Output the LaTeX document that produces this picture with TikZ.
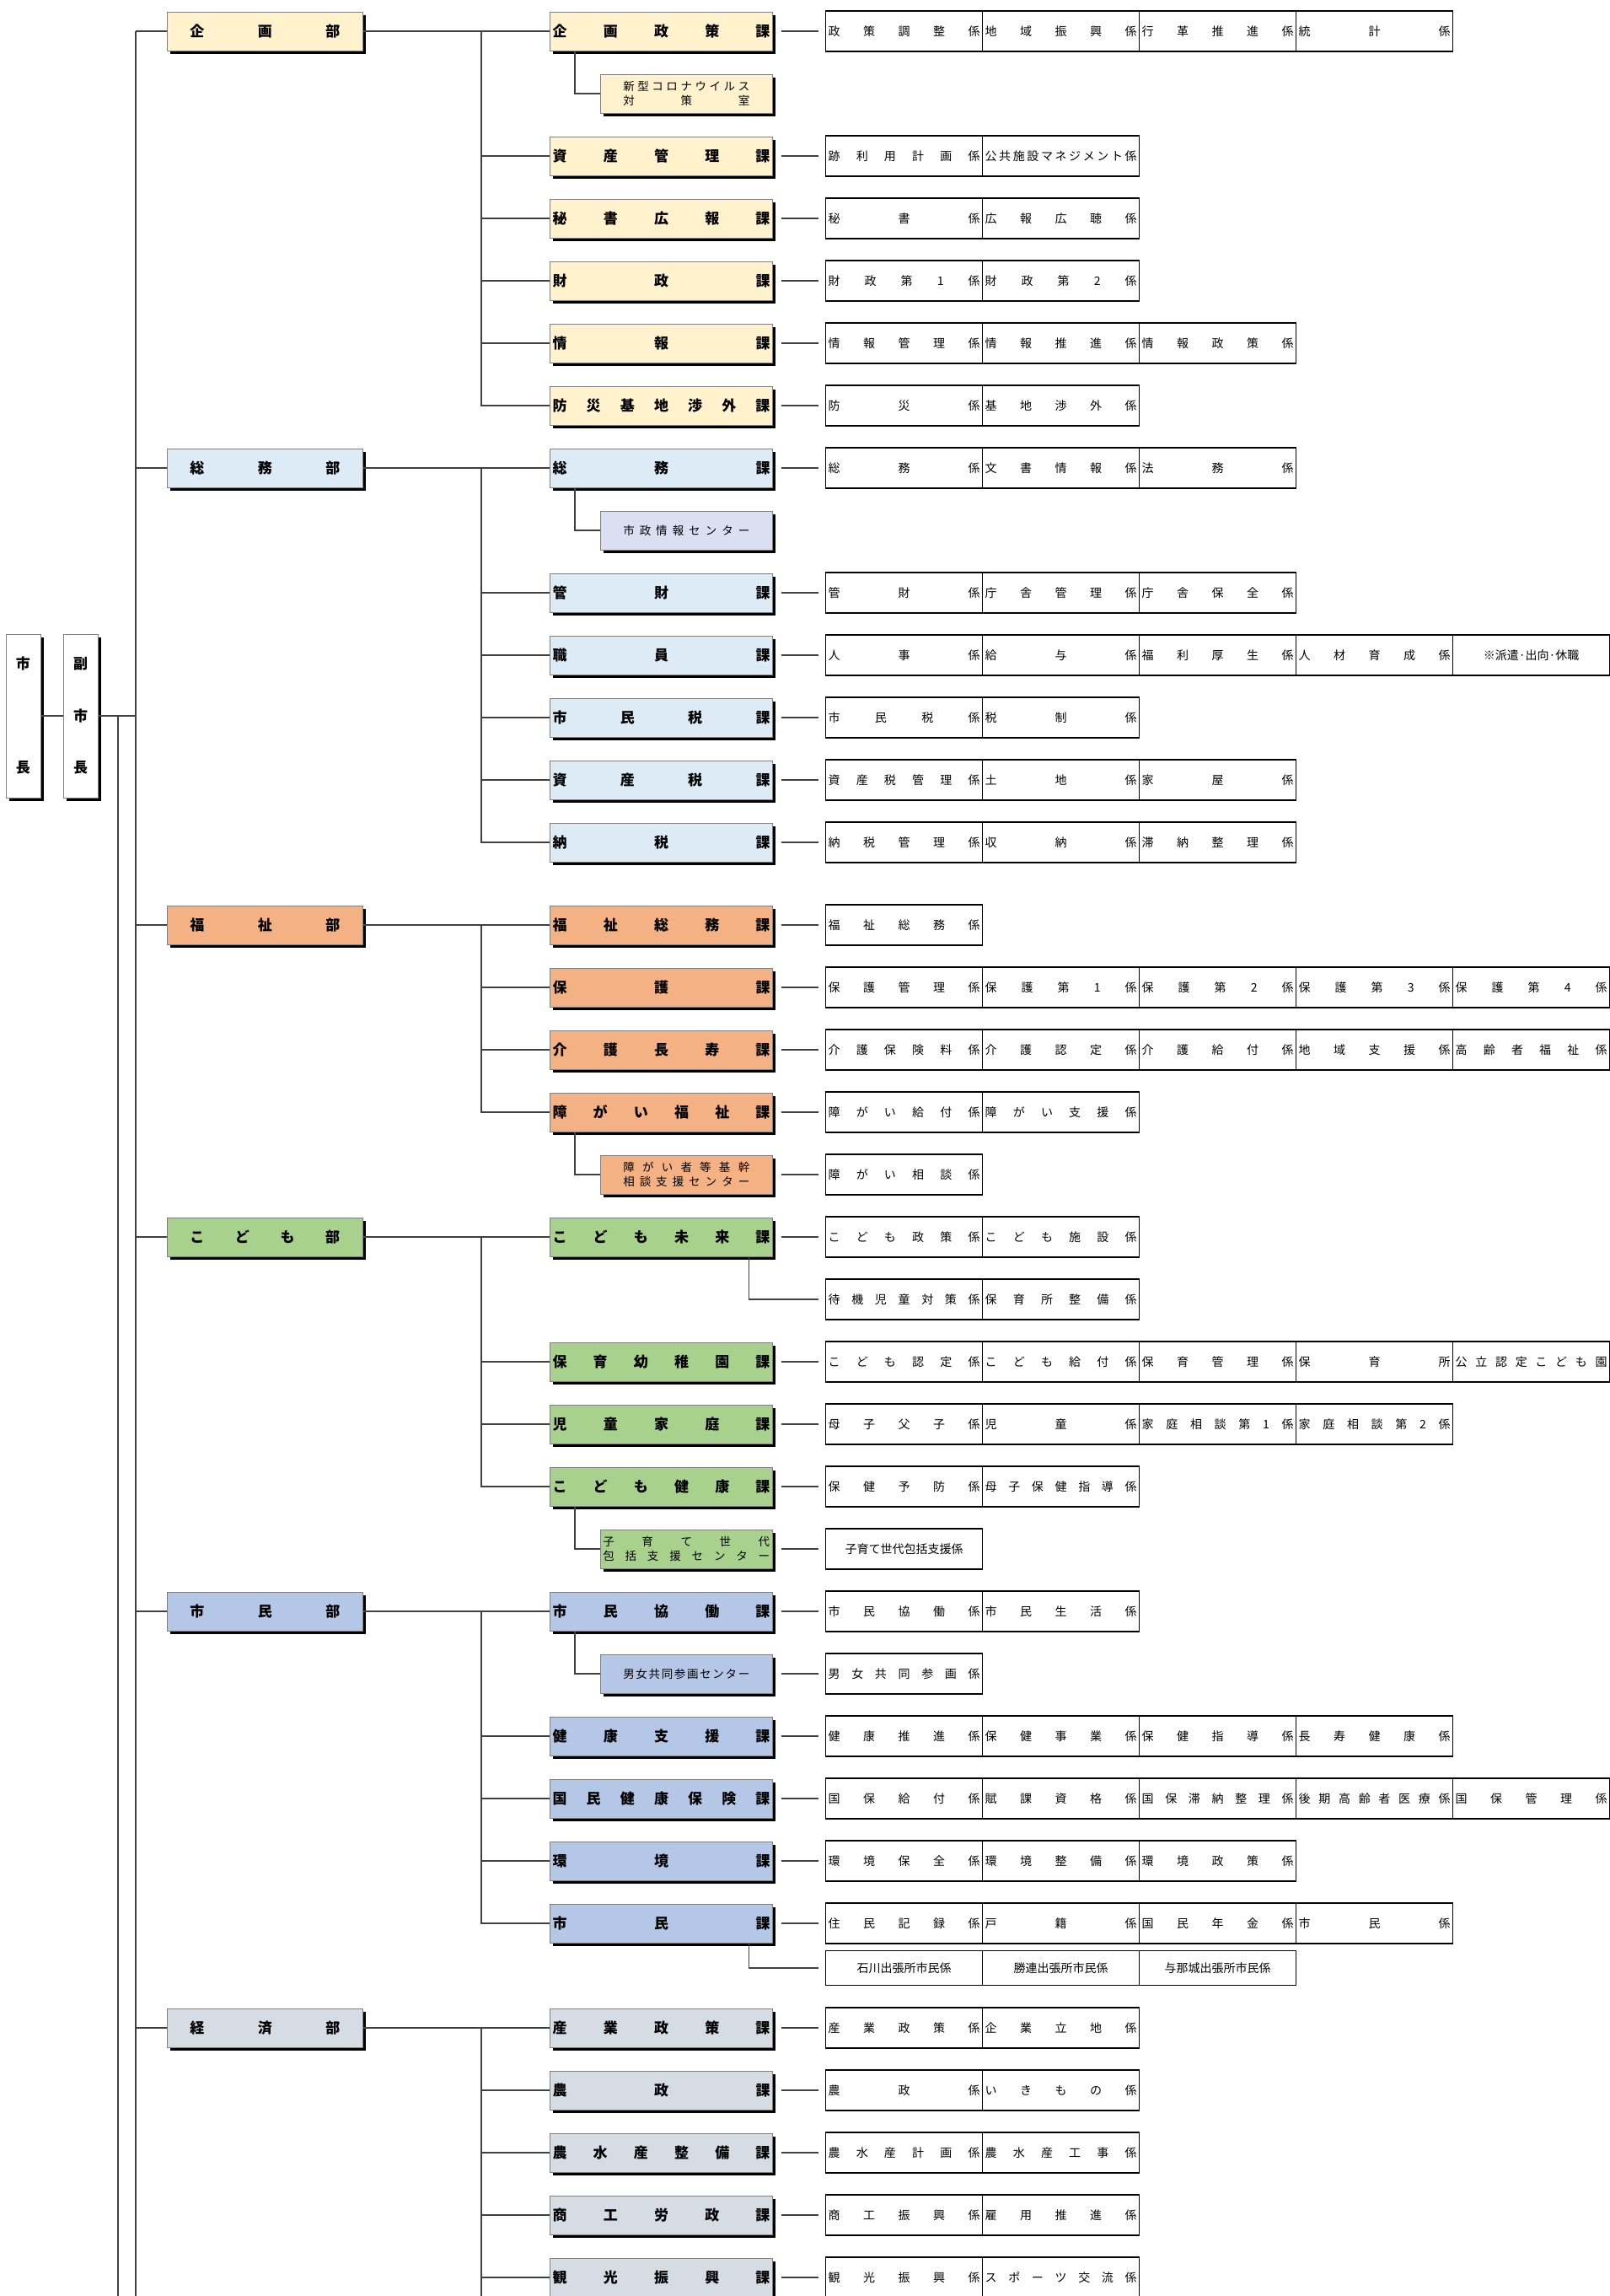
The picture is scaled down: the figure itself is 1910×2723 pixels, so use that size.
\documentclass[tikz,border=0pt]{standalone}
\usepackage{fontspec}
\setmainfont{Noto Sans CJK JP}
\usetikzlibrary{shadows}

\definecolor{kikakuC}{HTML}{FFF2CC}
\definecolor{somuC}{HTML}{DDEBF7}
\definecolor{shiseiC}{HTML}{DADFF2}
\definecolor{fukushiC}{HTML}{F4B183}
\definecolor{kodomoC}{HTML}{A9D18E}
\definecolor{shiminC}{HTML}{B4C7E7}
\definecolor{keizaiC}{HTML}{D6DCE4}

\newcommand\bufont{\fontsize{17}{20}\selectfont\bfseries}
\newcommand\shitsufont{\fontsize{13.5}{17}\selectfont}
\newcommand\kakarifont{\fontsize{14}{17}\selectfont}
% spaces in the text become equal stretchable gaps
\newcommand\spreadtxt[1]{\makebox[\hsize][s]{\spaceskip=0pt plus 1fil\relax #1}}
\newcommand\kakarirow[4][]{%
  \foreach \t [count=\i] in {#4}
    \node[kakari,#1] (#2-\i) at ({979+186*(\i-1)},#3) {\spreadtxt{\t}};%
}

\tikzset{
  box/.style={draw=black!50, line width=1pt, inner ysep=0pt, minimum height=46pt,
    align=center, drop shadow={shadow xshift=3.5pt, shadow yshift=-3.5pt, fill=black, opacity=1}},
  bu/.style={box, fill=#1, text width=178pt, inner xsep=27.25pt, font=\bufont},
  ka/.style={box, fill=#1, text width=258pt, inner xsep=2.75pt, font=\bufont},
  shitsu/.style={box, fill=#1, text width=150pt, inner xsep=27.25pt, font=\shitsufont},
  kakari/.style={draw, line width=1.2pt, anchor=west, minimum height=48pt, text width=180pt,
    inner xsep=3pt, inner ysep=0pt, align=center, font=\kakarifont},
  conn/.style={line width=1.5pt, black!75},
  stub/.style={conn, shorten <=10pt, shorten >=8pt},
}

\begin{document}
\begin{tikzpicture}[x=1pt,y=-1pt]
  \useasboundingbox (0,0) rectangle (1910,2723);
  % mayor and vice mayor
  \node[box, fill=white, text width=35pt, inner xsep=3pt, minimum height=194pt, font=\bufont]
    (shicho) at (27.5,849) {市\\[103pt]長};
  \node[box, fill=white, text width=35pt, inner xsep=3pt, minimum height=194pt, font=\bufont]
    (fukushicho) at (95.5,849) {副\\[41.5pt]市\\[41.5pt]長};
  \coordinate (bustop) at (161,37);
  \coordinate (busend) at (161,2723);
  \coordinate (sideend) at (140,2723);
  \draw[conn] (shicho.east) -- (fukushicho.west);
  \draw[conn] (bustop) -- (busend);
  \draw[conn] (fukushicho.east) -- (fukushicho.east -| bustop);
  \draw[conn] (fukushicho.east -| sideend) -- (sideend);

  % 企画部
  \node[bu=kikakuC] (kikakubu) at (314.25,37) {\spreadtxt{企 画 部}};
  \node[ka=kikakuC] (seisaku) at (784.5,37) {\spreadtxt{企 画 政 策 課}};
  \node[shitsu=kikakuC] (corona) at (814.25,111) {\spreadtxt{新 型 コ ロ ナ ウ イ ル ス}\\\spreadtxt{対 策 室}};
  \node[ka=kikakuC] (shisankanri) at (784.5,185) {\spreadtxt{資 産 管 理 課}};
  \node[ka=kikakuC] (hisho) at (784.5,259) {\spreadtxt{秘 書 広 報 課}};
  \node[ka=kikakuC] (zaisei) at (784.5,333) {\spreadtxt{財 政 課}};
  \node[ka=kikakuC] (joho) at (784.5,407) {\spreadtxt{情 報 課}};
  \node[ka=kikakuC] (bosai) at (784.5,481) {\spreadtxt{防 災 基 地 渉 外 課}};
  \kakarirow{seisaku}{37}{政 策 調 整 係, 地 域 振 興 係, 行 革 推 進 係, 統 計 係}
  \kakarirow{shisankanri}{185}{跡 利 用 計 画 係, 公 共 施 設 マ ネ ジ メ ン ト 係}
  \kakarirow{hisho}{259}{秘 書 係, 広 報 広 聴 係}
  \kakarirow{zaisei}{333}{財 政 第 1 係, 財 政 第 2 係}
  \kakarirow{joho}{407}{情 報 管 理 係, 情 報 推 進 係, 情 報 政 策 係}
  \kakarirow{bosai}{481}{防 災 係, 基 地 渉 外 係}
  \draw[conn] (kikakubu.east) -- (seisaku.west);
  \foreach \k in {shisankanri,hisho,zaisei,joho,bosai}
    \draw[conn] (\k.west) -- ++(-81.5,0) |- (kikakubu.east);
  \draw[conn] ([xshift=29.5pt]seisaku.south west) |- (corona.west);
  \foreach \k in {seisaku,shisankanri,hisho,zaisei,joho,bosai}
    \draw[stub] (\k.east) -- (\k-1.west);

  % 総務部
  \node[bu=somuC] (somubu) at (314.25,555) {\spreadtxt{総 務 部}};
  \node[ka=somuC] (somu) at (784.5,555) {\spreadtxt{総 務 課}};
  \node[shitsu=shiseiC] (shisei) at (814.25,629) {\spreadtxt{市 政 情 報 セ ン タ ー}};
  \node[ka=somuC] (kanzai) at (784.5,703) {\spreadtxt{管 財 課}};
  \node[ka=somuC] (shokuin) at (784.5,777) {\spreadtxt{職 員 課}};
  \node[ka=somuC] (shiminzei) at (784.5,851) {\spreadtxt{市 民 税 課}};
  \node[ka=somuC] (shisanzei) at (784.5,925) {\spreadtxt{資 産 税 課}};
  \node[ka=somuC] (nozei) at (784.5,999) {\spreadtxt{納 税 課}};
  \kakarirow{somu}{555}{総 務 係, 文 書 情 報 係, 法 務 係}
  \kakarirow{kanzai}{703}{管 財 係, 庁 舎 管 理 係, 庁 舎 保 全 係}
  \kakarirow{shokuin}{777}{人 事 係, 給 与 係, 福 利 厚 生 係, 人 材 育 成 係, \hfil{}※派遣·出向·休職\hfil}
  \kakarirow{shiminzei}{851}{市 民 税 係, 税 制 係}
  \kakarirow{shisanzei}{925}{資 産 税 管 理 係, 土 地 係, 家 屋 係}
  \kakarirow{nozei}{999}{納 税 管 理 係, 収 納 係, 滞 納 整 理 係}
  \draw[conn] (somubu.east) -- (somu.west);
  \foreach \k in {kanzai,shokuin,shiminzei,shisanzei,nozei}
    \draw[conn] (\k.west) -- ++(-81.5,0) |- (somubu.east);
  \draw[conn] ([xshift=29.5pt]somu.south west) |- (shisei.west);
  \foreach \k in {somu,kanzai,shokuin,shiminzei,shisanzei,nozei}
    \draw[stub] (\k.east) -- (\k-1.west);

  % 福祉部
  \node[bu=fukushiC] (fukushibu) at (314.25,1097) {\spreadtxt{福 祉 部}};
  \node[ka=fukushiC] (fukushisomu) at (784.5,1097) {\spreadtxt{福 祉 総 務 課}};
  \node[ka=fukushiC] (hogo) at (784.5,1171) {\spreadtxt{保 護 課}};
  \node[ka=fukushiC] (kaigo) at (784.5,1245) {\spreadtxt{介 護 長 寿 課}};
  \node[ka=fukushiC] (shogai) at (784.5,1319) {\spreadtxt{障 が い 福 祉 課}};
  \node[shitsu=fukushiC] (kikan) at (814.25,1393) {\spreadtxt{障 が い 者 等 基 幹}\\\spreadtxt{相 談 支 援 セ ン タ ー}};
  \kakarirow{fukushisomu}{1097}{福 祉 総 務 係}
  \kakarirow{hogo}{1171}{保 護 管 理 係, 保 護 第 1 係, 保 護 第 2 係, 保 護 第 3 係, 保 護 第 4 係}
  \kakarirow{kaigo}{1245}{介 護 保 険 料 係, 介 護 認 定 係, 介 護 給 付 係, 地 域 支 援 係, 高 齢 者 福 祉 係}
  \kakarirow{shogai}{1319}{障 が い 給 付 係, 障 が い 支 援 係}
  \kakarirow{kikan}{1393}{障 が い 相 談 係}
  \draw[conn] (fukushibu.east) -- (fukushisomu.west);
  \foreach \k in {hogo,kaigo,shogai}
    \draw[conn] (\k.west) -- ++(-81.5,0) |- (fukushibu.east);
  \draw[conn] ([xshift=29.5pt]shogai.south west) |- (kikan.west);
  \foreach \k in {fukushisomu,hogo,kaigo,shogai,kikan}
    \draw[stub] (\k.east) -- (\k-1.west);

  % こども部
  \node[bu=kodomoC] (kodomobu) at (314.25,1467) {\spreadtxt{こ ど も 部}};
  \node[ka=kodomoC] (mirai) at (784.5,1467) {\spreadtxt{こ ど も 未 来 課}};
  \node[ka=kodomoC] (hoiku) at (784.5,1615) {\spreadtxt{保 育 幼 稚 園 課}};
  \node[ka=kodomoC] (jido) at (784.5,1689) {\spreadtxt{児 童 家 庭 課}};
  \node[ka=kodomoC] (kenko) at (784.5,1763) {\spreadtxt{こ ど も 健 康 課}};
  \node[shitsu=kodomoC, text width=198pt, inner xsep=3.25pt] (kosodate) at (814.25,1837)
    {\spreadtxt{子 育 て 世 代}\\\spreadtxt{包 括 支 援 セ ン タ ー}};
  \kakarirow{mirai}{1467}{こ ど も 政 策 係, こ ど も 施 設 係}
  \kakarirow{taiki}{1541}{待 機 児 童 対 策 係, 保 育 所 整 備 係}
  \kakarirow{hoiku}{1615}{こ ど も 認 定 係, こ ど も 給 付 係, 保 育 管 理 係, 保 育 所, 公 立 認 定 こ ど も 園}
  \kakarirow{jido}{1689}{母 子 父 子 係, 児 童 係, 家 庭 相 談 第 1 係, 家 庭 相 談 第 2 係}
  \kakarirow{kenko}{1763}{保 健 予 防 係, 母 子 保 健 指 導 係}
  \kakarirow{kosodate}{1837}{\hfil{}子育て世代包括支援係\hfil}
  \draw[conn] (kodomobu.east) -- (mirai.west);
  \foreach \k in {hoiku,jido,kenko}
    \draw[conn] (\k.west) -- ++(-81.5,0) |- (kodomobu.east);
  \draw[conn] ([xshift=29.5pt]kenko.south west) |- (kosodate.west);
  \draw[conn, shorten >=8pt] ([xshift=-28.5pt]mirai.south east) |- (taiki-1.west);
  \foreach \k in {mirai,hoiku,jido,kenko,kosodate}
    \draw[stub] (\k.east) -- (\k-1.west);

  % 市民部
  \node[bu=shiminC] (shiminbu) at (314.25,1911) {\spreadtxt{市 民 部}};
  \node[ka=shiminC] (kyodo) at (784.5,1911) {\spreadtxt{市 民 協 働 課}};
  \node[shitsu=shiminC] (danjo) at (814.25,1985) {\spreadtxt{男 女 共 同 参 画 セ ン タ ー}};
  \node[ka=shiminC] (kenkoshien) at (784.5,2059) {\spreadtxt{健 康 支 援 課}};
  \node[ka=shiminC] (kokuho) at (784.5,2133) {\spreadtxt{国 民 健 康 保 険 課}};
  \node[ka=shiminC] (kankyo) at (784.5,2207) {\spreadtxt{環 境 課}};
  \node[ka=shiminC] (shiminka) at (784.5,2281) {\spreadtxt{市 民 課}};
  \kakarirow{kyodo}{1911}{市 民 協 働 係, 市 民 生 活 係}
  \kakarirow{danjo}{1985}{男 女 共 同 参 画 係}
  \kakarirow{kenkoshien}{2059}{健 康 推 進 係, 保 健 事 業 係, 保 健 指 導 係, 長 寿 健 康 係}
  \kakarirow{kokuho}{2133}{国 保 給 付 係, 賦 課 資 格 係, 国 保 滞 納 整 理 係, 後 期 高 齢 者 医 療 係, 国 保 管 理 係}
  \kakarirow{kankyo}{2207}{環 境 保 全 係, 環 境 整 備 係, 環 境 政 策 係}
  \kakarirow{shiminka}{2281}{住 民 記 録 係, 戸 籍 係, 国 民 年 金 係, 市 民 係}
  \kakarirow[minimum height=41pt]{shutcho}{2334}{\hfil{}石川出張所市民係\hfil, \hfil{}勝連出張所市民係\hfil, \hfil{}与那城出張所市民係\hfil}
  \draw[conn] (shiminbu.east) -- (kyodo.west);
  \foreach \k in {kenkoshien,kokuho,kankyo,shiminka}
    \draw[conn] (\k.west) -- ++(-81.5,0) |- (shiminbu.east);
  \draw[conn] ([xshift=29.5pt]kyodo.south west) |- (danjo.west);
  \draw[conn, shorten >=8pt] ([xshift=-28.5pt]shiminka.south east) |- (shutcho-1.west);
  \foreach \k in {kyodo,danjo,kenkoshien,kokuho,kankyo,shiminka}
    \draw[stub] (\k.east) -- (\k-1.west);

  % 経済部
  \node[bu=keizaiC] (keizaibu) at (314.25,2405) {\spreadtxt{経 済 部}};
  \node[ka=keizaiC] (sangyo) at (784.5,2405) {\spreadtxt{産 業 政 策 課}};
  \node[ka=keizaiC] (nosei) at (784.5,2479) {\spreadtxt{農 政 課}};
  \node[ka=keizaiC] (nosuisan) at (784.5,2553) {\spreadtxt{農 水 産 整 備 課}};
  \node[ka=keizaiC] (shoko) at (784.5,2627) {\spreadtxt{商 工 労 政 課}};
  \node[ka=keizaiC] (kanko) at (784.5,2701) {\spreadtxt{観 光 振 興 課}};
  \kakarirow{sangyo}{2405}{産 業 政 策 係, 企 業 立 地 係}
  \kakarirow{nosei}{2479}{農 政 係, い き も の 係}
  \kakarirow{nosuisan}{2553}{農 水 産 計 画 係, 農 水 産 工 事 係}
  \kakarirow{shoko}{2627}{商 工 振 興 係, 雇 用 推 進 係}
  \kakarirow{kanko}{2701}{観 光 振 興 係, ス ポ ー ツ 交 流 係}
  \coordinate (keizaiend) at (571,2723);
  \draw[conn] (keizaibu.east) -- (sangyo.west);
  \foreach \k in {nosei,nosuisan,shoko,kanko}
    \draw[conn] (\k.west) -- ++(-81.5,0) |- (keizaibu.east);
  \draw[conn] (keizaibu.east -| keizaiend) -- (keizaiend);
  \foreach \k in {sangyo,nosei,nosuisan,shoko,kanko}
    \draw[stub] (\k.east) -- (\k-1.west);

  % department links to the main line
  \foreach \b in {kikakubu,somubu,fukushibu,kodomobu,shiminbu,keizaibu}
    \draw[conn] (\b.west -| bustop) -- (\b.west);
\end{tikzpicture}
\end{document}
